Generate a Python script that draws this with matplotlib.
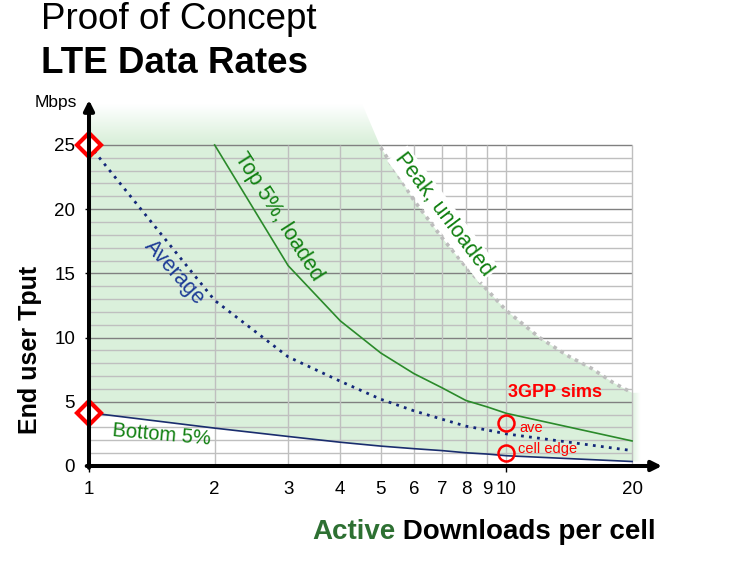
"""LTE data rates proof-of-concept chart."""

import numpy as np
import matplotlib
matplotlib.use("Agg")
import matplotlib.pyplot as plt
from matplotlib.patches import Polygon

plt.rcParams["font.family"] = ["Liberation Sans", "DejaVu Sans"]

# data (Mbps vs active downloads per cell)
x_avg = [1, 2, 3, 4, 5, 6, 7, 8, 9, 10, 20]
avg = [25, 12.9, 8.5, 6.6, 5.2, 4.3, 3.65, 3.1, 2.8, 2.5, 1.2]

x_top = [2, 3, 4, 5, 6, 7, 8, 9, 10, 20]
top5 = [25, 15.6, 11.3, 8.8, 7.2, 6.1, 5.1, 4.6, 4.1, 1.95]

x_bot = [1, 2, 3, 4, 5, 6, 7, 8, 9, 10, 20]
bot5 = [4.15, 2.95, 2.3, 1.85, 1.55, 1.35, 1.2, 1.03, 0.93, 0.8, 0.35]

x_peak = [4.5, 5, 6, 7, 8, 9, 10, 12, 14, 16, 18, 20]
peak = [28.3, 24.8, 20.7, 17.8, 15.5, 13.7, 12.1, 10.0, 8.6, 7.6, 6.5, 5.7]

sims_x = [10, 10]
sims_y = [3.35, 1.0]

xticks = [1, 2, 3, 4, 5, 6, 7, 8, 9, 10, 20]
yticks = [0, 5, 10, 15, 20, 25]

W, H = 754, 586
XMAX, YMAX = 23.59, 28.5
GREEN_FILL = (0.855, 0.945, 0.862)


def fx(px):
    return px / W


def fy(py):
    return 1 - py / H


fig = plt.figure(figsize=(W / 100, H / 100), dpi=100)
ax = fig.add_axes([fx(89), fy(466), 573 / W, 366 / H])
ax.set_xscale("log")

# shaded region between bottom 5% and peak, fading out at the top/right
verts = list(zip(x_bot, bot5)) + [(21, bot5[-1]), (21, peak[-1])]
verts += list(zip(x_peak[::-1], peak[::-1])) + [(x_peak[0], YMAX), (1, YMAX)]
poly = Polygon(verts, closed=True, facecolor="none", edgecolor="none")
ax.add_patch(poly)

n = 400
cols = np.linspace(0, 1, n)
rows = np.linspace(0, 1, n)
xs = 10 ** (cols * np.log10(XMAX))
ys = rows * YMAX
a_x = np.clip((21 - xs) / 1.0, 0, 1)
a_y = np.clip((28.2 - ys) / 2.9, 0, 1)
img = np.zeros((n, n, 4))
img[..., 0], img[..., 1], img[..., 2] = GREEN_FILL
img[..., 3] = a_y[:, None] * a_x[None, :]
im = ax.imshow(img, extent=[0, 1, 0, 1], transform=ax.transAxes,
               origin="lower", aspect="auto", interpolation="bilinear", zorder=0)
im.set_clip_path(poly)

ax.set_xlim(1, XMAX)
ax.set_ylim(0, YMAX)

# grid
for y in range(1, 26):
    ax.hlines(y, 1, 20, colors="#808080" if y % 5 == 0 else "#BFBFBF",
              lw=1.0, zorder=1)
ax.vlines([t for t in xticks if t > 1], 0, 25, colors="#BFBFBF", lw=1.0, zorder=1)

# curves
ax.plot(x_peak[1:], peak[1:], color="#BDBDBD", lw=2.6,
        linestyle=(0, (1, 1.3)), zorder=2)
ax.plot(x_top, top5, color="#2A8A2A", lw=1.2, zorder=3)
ax.plot(x_bot, bot5, color="#1A2D6E", lw=1.2, zorder=3)
ax.plot(x_avg, avg, color="#14287A", lw=2.0, linestyle=(0, (1, 1.9)), zorder=3)

# markers
ax.plot([x_avg[0], x_bot[0]], [avg[0], bot5[0]], linestyle="none", marker="D",
        ms=12.5, mfc="white", mec="#FF0000", mew=3, clip_on=False, zorder=6)
ax.plot(sims_x, sims_y, linestyle="none", marker="o", ms=11.5, mfc="none",
        mec="#FF0000", mew=1.8, clip_on=False, zorder=6)

# labels on curves
ax.text(1.598, 15.03, "Average", rotation=-48, color="#1E3C96", fontsize=15.5,
        ha="center", va="center", zorder=4)
ax.text(2.85, 19.4, "Top 5%, loaded", rotation=-57.5, color="#118011",
        fontsize=15.5, ha="center", va="center", zorder=4)
ax.text(7.06, 19.6, "Peak, unloaded", rotation=-53, color="#118011",
        fontsize=15.5, ha="center", va="center", zorder=4,
        bbox=dict(facecolor="white", edgecolor="none", pad=1.5))
ax.text(1.49, 2.41, "Bottom 5%", rotation=-5, color="#118011", fontsize=14.5,
        ha="center", va="center", zorder=4)
ax.text(13.07, 5.7, "3GPP sims", color="#FF0000", fontsize=13, fontweight="bold",
        ha="center", va="center", zorder=4)
ax.text(10.72, 2.96, "ave", color="#FF0000", fontsize=10.5, ha="left",
        va="center", zorder=4)
ax.text(10.68, 1.32, "cell edge", color="#FF0000", fontsize=10.5, ha="left",
        va="center", zorder=4)

# axes as arrows
for s in ax.spines.values():
    s.set_visible(False)
arrow = dict(arrowstyle="-|>", lw=2.9, color="black", mutation_scale=15,
             shrinkA=0, shrinkB=0)
ax.annotate("", xy=(1.0, 0), xytext=(-0.004, 0), xycoords="axes fraction",
            arrowprops=arrow, zorder=7, annotation_clip=False)
ax.annotate("", xy=(0, 1.0), xytext=(0, -0.005), xycoords="axes fraction",
            arrowprops=arrow, zorder=7, annotation_clip=False)

# ticks
ax.set_xticks([1, 10], labels=["1", "10"])
ax.set_xticks([t for t in xticks if t not in (1, 10)],
              labels=[str(t) for t in xticks if t not in (1, 10)], minor=True)
ax.tick_params(axis="x", which="major", length=4.5, width=1, pad=6.5,
               labelsize=13.5)
ax.tick_params(axis="x", which="minor", length=0, pad=11, labelsize=13.5)
ax.set_yticks(yticks)
ax.tick_params(axis="y", length=3, width=1, pad=7, labelsize=13.5)

# titles and axis labels
fig.text(fx(41), fy(29), "Proof of Concept", fontsize=26.5, va="baseline",
         ha="left")
fig.text(fx(41), fy(73), "LTE Data Rates", fontsize=26.5, fontweight="bold",
         va="baseline", ha="left")
fig.text(fx(77), fy(102), "Mbps", fontsize=12.5, ha="right", va="center")
fig.text(fx(30), fy(350), "End user Tput", fontsize=18, fontweight="bold",
         rotation=90, ha="center", va="center")
t1 = fig.text(fx(312), fy(539), "Active", fontsize=20, fontweight="bold",
              color="#2D7032", ha="left", va="baseline")
ax.annotate(" Downloads per cell", xy=(1, 0), xycoords=t1, fontsize=20,
            fontweight="bold", color="black", ha="left", va="bottom",
            annotation_clip=False)

fig.savefig("out.png", dpi=100)
